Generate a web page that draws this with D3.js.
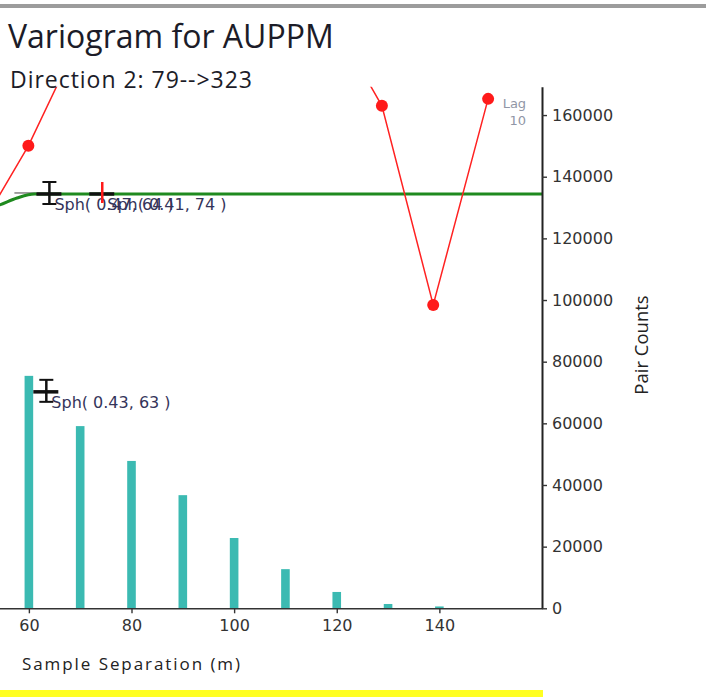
<!DOCTYPE html>
<html><head><meta charset="utf-8">
<script src="https://cdn.jsdelivr.net/npm/d3@7"></script>
<style>body{margin:0;background:#fff;} svg{display:block}</style>
</head><body>
<svg id="c" width="706" height="697"></svg>
<script>
// ---- data ----
const lagDist   = [49.9, 59.9, 69.9, 79.9, 89.9, 99.9, 109.9, 119.9, 128.8, 138.8, 149.5];
const gammaVals = [0.431, 0.532, 0.656, 0.700, 0.730, 0.710, 0.690, 0.670, 0.578, 0.349, 0.586];
const pairLags   = [60, 70, 80, 90, 100, 110, 120, 130, 140];
const pairCounts = [75400, 59100, 47800, 36700, 22800, 12700, 5300, 1400, 600];
const modelLags  = [45, 50, 54.3, 57.7, 61.1, 160];
const modelGamma = [0.447, 0.456, 0.464, 0.472, 0.4766, 0.4766];
const crossRanges = [64.0, 74.3, 63.4];
const crossSills  = [0.4766, 0.4766, 0.249];
const crossLabels = ["Sph( 0.47, 64 )", "Sph( 0.41, 74 )", "Sph( 0.43, 63 )"];
const xTicks = [60, 80, 100, 120, 140];
const countTicks = [0, 20000, 40000, 60000, 80000, 100000, 120000, 140000, 160000];
const lagLabel = ["Lag", "10"];
const titleText = "Variogram for AUPPM";
const subtitleText = "Direction 2: 79-->323";
const xTitleText = "Sample Separation (m)";
const rightTitleText = "Pair Counts";

// ---- scales ----
const svg = d3.select("#c");
const x = d3.scaleLinear().domain([0, 160]).range([-279, 542]);
const yG = d3.scaleLinear().domain([0, 0.6]).range([608.3, 86.7]);
const yC = d3.scaleLinear().domain([0, 169200]).range([608.3, 86.7]);
const plotTop = 86.7, plotBottom = 608.3, plotRight = x(160);

// frame decorations
svg.append("rect").attr("x", 0).attr("y", 4).attr("width", 706).attr("height", 4).attr("fill", "#9c9c9c");
svg.append("rect").attr("x", 0).attr("y", 690).attr("width", 543).attr("height", 7).attr("fill", "#ffff22");

svg.append("clipPath").attr("id", "plotclip").append("rect")
  .attr("x", -400).attr("y", plotTop).attr("width", plotRight + 400).attr("height", plotBottom - plotTop);
const plot = svg.append("g").attr("clip-path", "url(#plotclip)");

const crosses = crossRanges.map((r, i) => ({r, s: crossSills[i], label: crossLabels[i], i}));

// thin range line of the first cross (others are hidden in the reference)
plot.selectAll("line.thin").data(crosses.filter(d => d.i === 0)).join("line")
  .attr("x1", d => x(d.r) - 35).attr("x2", d => x(d.r) - 13)
  .attr("y1", d => yG(d.s) - 1).attr("y2", d => yG(d.s) - 1)
  .attr("stroke", "#444").attr("stroke-width", 1);

// pair count bars
plot.selectAll("rect.bar").data(pairLags).join("rect")
  .attr("x", (d) => x(d) - 4.3).attr("width", 8.6)
  .attr("y", (d, i) => yC(pairCounts[i])).attr("height", (d, i) => plotBottom - yC(pairCounts[i]))
  .attr("fill", "#3bbab2");

// model
const modelLine = d3.line().x((d, i) => x(modelLags[i])).y((d, i) => yG(modelGamma[i])).curve(d3.curveMonotoneX);
plot.append("path").datum(modelLags).attr("d", modelLine)
  .attr("fill", "none").attr("stroke", "#1f8a1f").attr("stroke-width", 3);

// experimental variogram
const vLine = d3.line().x((d, i) => x(lagDist[i])).y((d, i) => yG(gammaVals[i]));
plot.append("path").datum(lagDist).attr("d", vLine)
  .attr("fill", "none").attr("stroke", "#ff2222").attr("stroke-width", 1.5);
plot.selectAll("circle.pt").data(lagDist).join("circle")
  .attr("cx", d => x(d)).attr("cy", (d, i) => yG(gammaVals[i])).attr("r", 6)
  .attr("fill", "#ff1a1a");

// crosses
const cg = svg.append("g");
crosses.forEach(d => {
  const cx = x(d.r), cy = yG(d.s);
  cg.append("line").attr("x1", cx - 13).attr("x2", cx + 12).attr("y1", cy).attr("y2", cy)
    .attr("stroke", "#111").attr("stroke-width", 3.5);
  if (d.i === 1) {
    cg.append("line").attr("x1", cx).attr("x2", cx).attr("y1", cy - 12).attr("y2", cy + 9)
      .attr("stroke", "#ff1a1a").attr("stroke-width", 2.5);
  } else {
    cg.append("line").attr("x1", cx).attr("x2", cx).attr("y1", cy - 12).attr("y2", cy + 10)
      .attr("stroke", "#111").attr("stroke-width", 2.5);
    [cy - 12, cy + 10].forEach(yy => cg.append("line").attr("x1", cx - 7).attr("x2", cx + 7)
      .attr("y1", yy).attr("y2", yy).attr("stroke", "#111").attr("stroke-width", 2));
  }
  cg.append("text").attr("x", cx + 5).attr("y", cy + 16.5).text(d.label)
    .attr("font-family", "DejaVu Sans").attr("font-size", 16).attr("fill", "#34345a");
});

// lag label next to last point
const lx = x(lagDist[lagDist.length - 1]) + 38, ly = yG(gammaVals[gammaVals.length - 1]);
lagLabel.forEach((t, k) => svg.append("text").attr("x", lx).attr("y", ly + 9 + k * 17)
  .attr("text-anchor", "end").attr("font-family", "DejaVu Sans").attr("font-size", 13)
  .attr("fill", "#9096a6").text(t));

// axes
const xAxis = svg.append("g").attr("transform", `translate(0,${plotBottom})`)
  .call(d3.axisBottom(x).tickValues(xTicks).tickSize(5).tickSizeOuter(0).tickPadding(6).tickFormat(d3.format("d")));
xAxis.select(".domain").attr("stroke", "#333").attr("stroke-width", 1.6);
xAxis.selectAll(".tick line").attr("stroke", "#333").attr("stroke-width", 1.4);
xAxis.selectAll(".tick text").attr("font-family", "DejaVu Sans").attr("font-size", 16).attr("fill", "#333");

const rAxis = svg.append("g").attr("transform", `translate(${plotRight},0)`)
  .call(d3.axisRight(yC).tickValues(countTicks).tickSize(5).tickSizeOuter(0).tickPadding(5).tickFormat(d3.format("d")));
rAxis.select(".domain").attr("stroke", "#222").attr("stroke-width", 2);
rAxis.selectAll(".tick line").attr("stroke", "#333").attr("stroke-width", 1.4);
rAxis.selectAll(".tick text").attr("font-family", "DejaVu Sans").attr("font-size", 16).attr("fill", "#333");

// titles
svg.append("text").attr("x", 8).attr("y", 48).text(titleText)
  .attr("font-family", "Open Sans").attr("font-size", 32).attr("fill", "#1c1c28");
svg.append("text").attr("x", 10).attr("y", 88).text(subtitleText)
  .attr("font-family", "Open Sans").attr("font-size", 23).attr("fill", "#1c1c28")
  .attr("textLength", 242).attr("lengthAdjust", "spacing");
svg.append("text").attr("x", 22).attr("y", 670).text(xTitleText)
  .attr("font-family", "Open Sans").attr("font-size", 17).attr("fill", "#222")
  .attr("textLength", 218).attr("lengthAdjust", "spacing");
svg.append("text").attr("transform", "translate(648,345) rotate(-90)").attr("text-anchor", "middle")
  .text(rightTitleText).attr("font-family", "Open Sans").attr("font-size", 18.5).attr("fill", "#222");
</script>
</body></html>
